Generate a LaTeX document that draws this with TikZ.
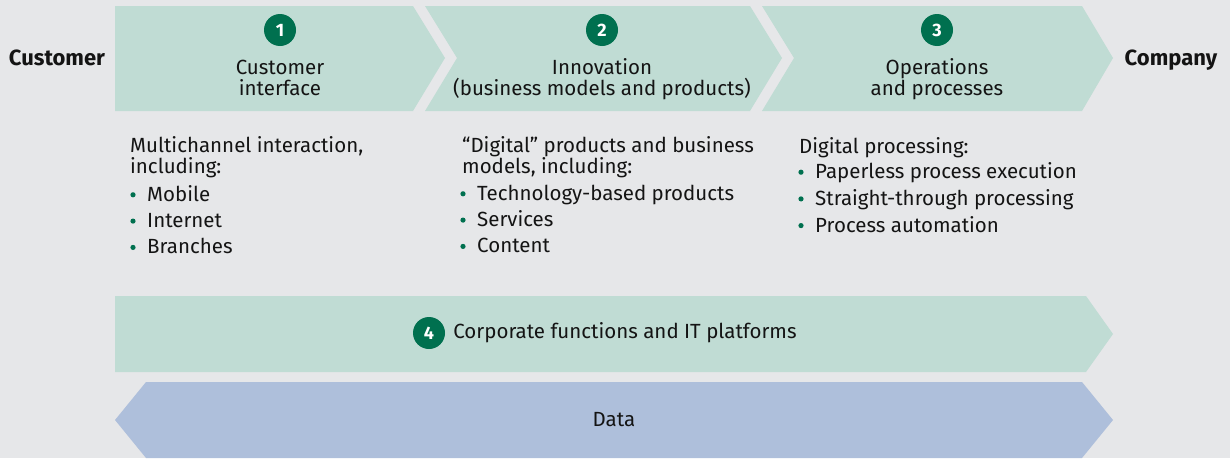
\documentclass[tikz,border=0pt]{standalone}
\usepackage{fontspec}
\setmainfont{Fira Sans}
\usetikzlibrary{positioning}
\definecolor{pagegray}{HTML}{E6E7E9}
\definecolor{bandgreen}{HTML}{C0DCD4}
\definecolor{datablue}{HTML}{AEBFDB}
\definecolor{dotgreen}{HTML}{00704F}
\definecolor{ink}{HTML}{141414}
\tikzset{every node/.style={text=ink, inner sep=0pt},
  numdot/.style={circle, fill=dotgreen, minimum size=32pt,
    text=white, font=\bfseries\fontsize{18}{18}\selectfont},
  head/.style={align=center, anchor=base, font=\fontsize{20.5}{21}\selectfont},
  side/.style={anchor=base, font=\bfseries\fontsize{22}{22}\selectfont},
  body/.style={align=left, anchor=base west, font=\fontsize{20.5}{20.5}\selectfont},
  item/.style={anchor=base west, font=\fontsize{20.5}{21}\selectfont}}

\begin{document}
\begin{tikzpicture}[x=1pt,y=-1pt]
  \fill[pagegray] (0,0) rectangle (1230,458);
  \useasboundingbox (0,0) rectangle (1230,458);
  % value chain
  \fill[bandgreen] (115,6) -- (413,6) -- (445,58) -- (413,111) -- (115,111) -- cycle;
  \fill[bandgreen] (425,6) -- (750,6) -- (782,58) -- (750,111) -- (425,111)
    -- (457,58) -- cycle;
  \fill[bandgreen] (762,6) -- (1082,6) -- (1113,58) -- (1082,111) -- (762,111)
    -- (794,58) -- cycle;
  % support layers
  \fill[bandgreen] (115,296) -- (1086,296) -- (1113,334) -- (1086,372) -- (115,372) -- cycle;
  \fill[datablue] (146,382) -- (1082,382) -- (1113,420) -- (1082,458) -- (146,458)
    -- (115,420) -- cycle;

  \node[side] (cust) at (57,65) {Customer};
  \node[side] (comp) at (1171,65) {Company};

  \node[numdot] (n1) at (280,30) {1};
  \node[numdot] (n2) at (602,30) {2};
  \node[numdot] (n3) at (937,30) {3};
  % multi-line nodes sit on the baseline of their last line
  \node[head] (h1) at (280,95) {Customer\\interface};
  \node[head] (h2) at (602,95) {Innovation\\(business models and products)};
  \node[head] (h3) at (937,95) {Operations\\and processes};

  \node[body] (b1) at (130,173) {Multichannel interaction,\\including:};
  \node[body] (b2) at (462,173) {“Digital” products and business\\models, including:};
  \node[body] (b3) at (799,153) {Digital processing:};
  \foreach \t [count=\i] in {Mobile,Internet,Branches}
    \node[item] (i1-\i) at (147,{175+26.3*\i}) {\t};
  \foreach \t [count=\i] in {Technology-based products,Services,Content}
    \node[item] (i2-\i) at (477,{174+26.3*\i}) {\t};
  \foreach \t [count=\i] in {Paperless process execution,Straight-through processing,
      Process automation}
    \node[item] (i3-\i) at (815,{152+26.7*\i}) {\t};
  \foreach \c in {1,2,3}
    \foreach \i in {1,2,3}
      \fill[dotgreen] ([xshift=-14pt,yshift=6.5pt]i\c-\i.base west) circle (2.6pt);

  \node[numdot] (n4) at (429,333) {4};
  \node[item, right=8pt of n4.east, anchor=west] (corp) {Corporate functions and IT platforms};
  \node[item, anchor=base] (data) at (614,426) {Data};
\end{tikzpicture}
\end{document}
